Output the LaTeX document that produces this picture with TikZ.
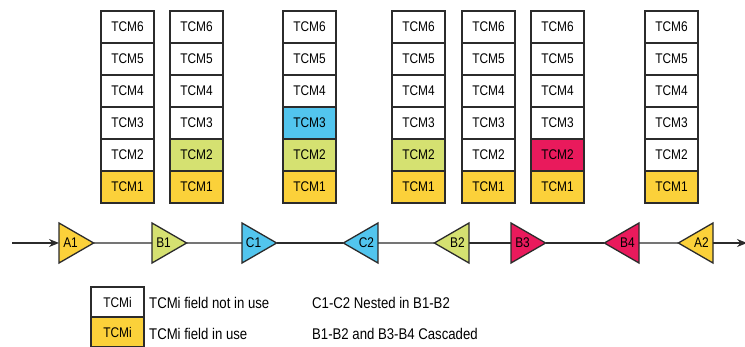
\documentclass[tikz,border=0pt]{standalone}
\usepackage{fontspec}
\setmainfont{Liberation Sans}[FakeStretch=0.85]
\usetikzlibrary{arrows.meta,shapes.geometric,positioning}
\definecolor{cmY}{HTML}{FBD13A}
\definecolor{cmG}{HTML}{D5E171}
\definecolor{cmB}{HTML}{52C5EE}
\definecolor{cmR}{HTML}{E91A5C}
\definecolor{cmL}{HTML}{2B2B2B}

\begin{document}
\begin{tikzpicture}[x=1pt,y=-1pt,
node distance=0pt,
    X/.style = {rectangle, draw=cmL, fill=white, line width=1.3pt,% cells of a TCM stack
                minimum width=53pt, minimum height=32pt,
                outer sep=0pt, font=\fontsize{14}{16}\selectfont},
    R/.style = {regular polygon, regular polygon sides=3,% triangle pointing right
                regular polygon rotate=-90, draw=cmL, line width=1.3pt,
                minimum size=46.2pt, inner sep=0pt, outer sep=0pt,
                font=\fontsize{14}{16}\selectfont},
    L/.style = {R, regular polygon rotate=90},% triangle pointing left
    W/.style = {cmL, line width=1.3pt},
    T/.style = {anchor=west, inner sep=0pt, font=\fontsize{15.5}{17}\selectfont},
                        ]
\useasboundingbox (0,0) rectangle (745,347);
% TCM stacks
\foreach \c/\x/\fa/\fb/\fc in {1/101/cmY/white/white, 2/170/cmY/cmG/white,
                              3/283/cmY/cmG/cmB,     4/392/cmY/cmG/white,
                              5/462/cmY/white/white, 6/531/cmY/cmR/white,
                              7/645/cmY/white/white}{
    \node[X, fill=\fa, anchor=south west] (K\c-1) at (\x,203) {TCM1};
    \node[X, fill=\fb, above=of K\c-1] (K\c-2) {TCM2};
    \node[X, fill=\fc, above=of K\c-2] (K\c-3) {TCM3};
    \foreach \r [count=\p from 3] in {4,5,6}
        \node[X, above=of K\c-\p] (K\c-\r) {TCM\r};
}
% path with the monitoring points
\coordinate (in)  at (12,243);
\coordinate (out) at (747,243);
\node[R, anchor=west, fill=cmY] (A1) at (59,243)  {A1};
\node[R, anchor=west, fill=cmG] (B1) at (152,243) {B1};
\node[R, anchor=west, fill=cmB] (C1) at (242,243) {C1};
\node[L, anchor=east, fill=cmB] (C2) at (378,243) {C2};
\node[L, anchor=east, fill=cmG] (B2) at (469,243) {B2};
\node[R, anchor=west, fill=cmR] (B3) at (511,243) {B3};
\node[L, anchor=east, fill=cmR] (B4) at (639,243) {B4};
\node[L, anchor=east, fill=cmY] (A2) at (713,243) {A2};
\draw[W, -{Stealth[length=10pt,width=8pt]}] (in) -- (A1.west);
\draw[W] (A1.east) -- (B1.west);
\draw[W] (B1.east) -- (C1.west);
\draw[W] (C1.east) -- (C2.west);
\draw[W] (C2.east) -- (B2.west);
\draw[W] (B2.east) -- (B3.west);
\draw[W] (B3.east) -- (B4.west);
\draw[W] (B4.east) -- (A2.west);
\draw[W, -{Stealth[length=10pt,width=8pt]}] (A2.east) -- (out);
% legend
\node[X, minimum height=30pt, anchor=north west] (Kw) at (91,287) {TCMi};
\node[X, minimum height=30pt, fill=cmY, below=of Kw] (Ky) {TCMi};
\node[T] (t1) at (149,303) {TCMi field not in use};
\node[T] (t2) at (149,334) {TCMi field in use};
\node[T] (t3) at (312,303) {C1-C2 Nested in B1-B2};
\node[T] (t4) at (312,334) {B1-B2 and B3-B4 Cascaded};
\end{tikzpicture}
\end{document}
